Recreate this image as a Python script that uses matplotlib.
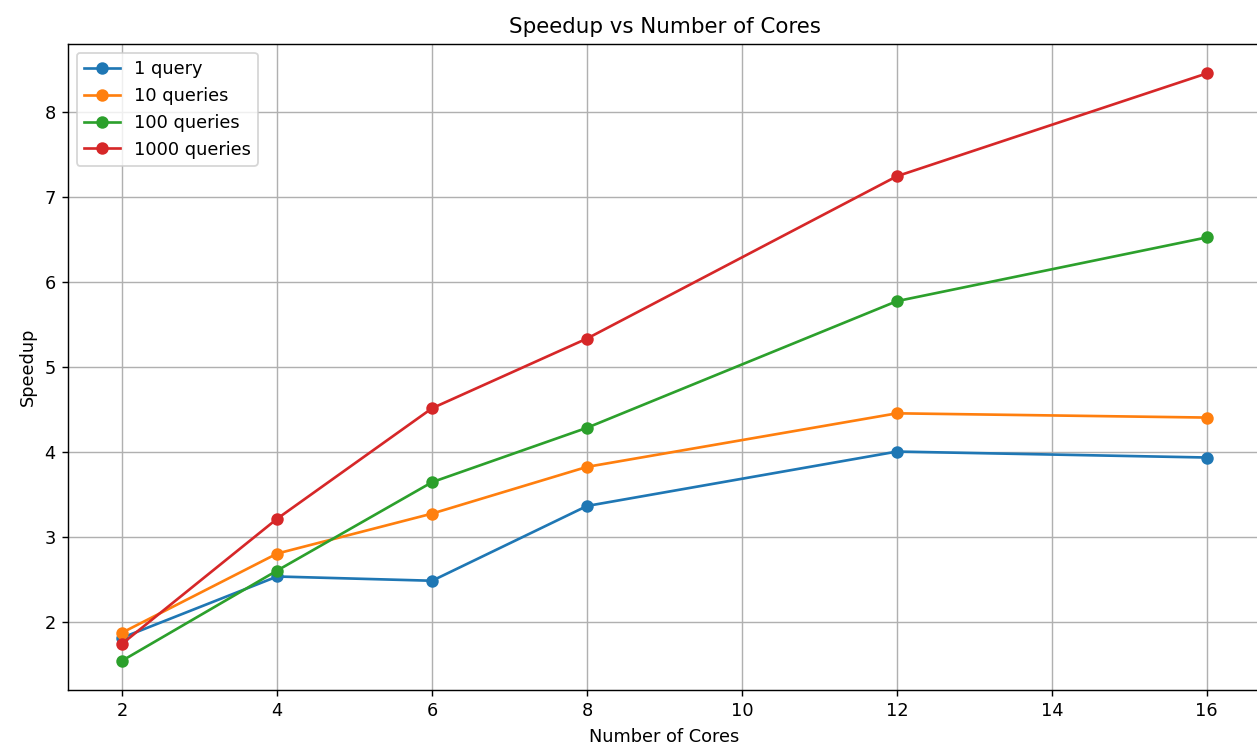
import matplotlib
matplotlib.use("Agg")
import matplotlib.pyplot as plt

cores = [2, 4, 6, 8, 12, 16]

speedup_1 = [1.81, 2.53, 2.48, 3.36, 4.00, 3.93]
speedup_10 = [1.87, 2.80, 3.27, 3.82, 4.45, 4.40]
speedup_100 = [1.54, 2.60, 3.64, 4.28, 5.77, 6.52]
speedup_1000 = [1.74, 3.21, 4.51, 5.33, 7.24, 8.45]

labels = ["1 query", "10 queries", "100 queries", "1000 queries"]

# reference looks like a 128 dpi render, so scale everything that way
dpi = 128
fig = plt.figure(figsize=(1257 / dpi, 755 / dpi), dpi=dpi)
ax = fig.add_axes([0.0541, 0.0861, 0.9491, 0.8556])

for vals, lab in zip([speedup_1, speedup_10, speedup_100, speedup_1000], labels):
    ax.plot(cores, vals, marker="o", label=lab)

ax.set_title("Speedup vs Number of Cores", fontsize=12)
ax.set_xlabel("Number of Cores")
ax.set_ylabel("Speedup")
ax.grid(True)
ax.legend(loc="upper left")

fig.savefig("out.png", dpi=dpi)
